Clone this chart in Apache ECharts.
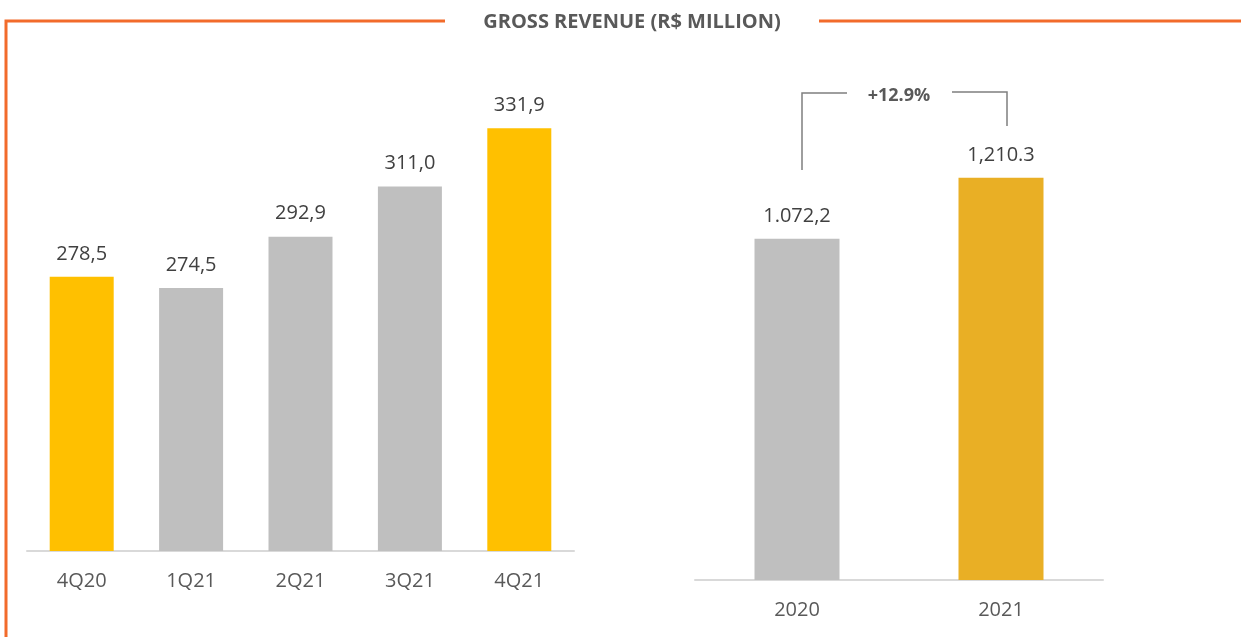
<!DOCTYPE html>
<html>
<head>
<meta charset="utf-8">
<script src="https://cdn.jsdelivr.net/npm/echarts@6/dist/echarts.min.js"></script>
<style>
  html, body { margin: 0; padding: 0; background: #fff; }
  #main { width: 1241px; height: 637px; }
</style>
</head>
<body>
<div id="main"></div>
<script>
  // quarterly gross revenue
  var quarters = ['4Q20', '1Q21', '2Q21', '3Q21', '4Q21']
  var quarterValues = [278.5, 274.5, 292.9, 311.0, 331.9]
  var quarterLabels = ['278,5', '274,5', '292,9', '311,0', '331,9']

  // yearly gross revenue
  var years = ['2020', '2021']
  var yearValues = [1072.2, 1210.3]
  var yearLabels = ['1.072,2', '1,210.3']
  var growthText = '+12.9%'

  var quarterColors = ['#FFC000', '#BFBFBF', '#BFBFBF', '#BFBFBF', '#FFC000']
  var yearColors = ['#BFBFBF', '#E9AF25']

  var font = '"Open Sans", "DejaVu Sans", sans-serif'
  var orange = '#F26B2B'
  var myChart = echarts.init(document.getElementById('main'))

  var option = {
    animation: false,
    textStyle: { fontFamily: font },
    grid: [
      { left: 27, width: 547, top: 50, bottom: 86 },
      { left: 695, width: 408, top: 94, bottom: 57 }
    ],
    xAxis: [{
      gridIndex: 0,
      type: 'category',
      data: quarters,
      axisLine: { lineStyle: { color: '#D9D9D9', width: 2 } },
      axisTick: { show: false },
      axisLabel: { color: '#595959', fontSize: 20, margin: 20, fontFamily: font }
    }, {
      gridIndex: 1,
      type: 'category',
      data: years,
      axisLine: { lineStyle: { color: '#D9D9D9', width: 2 } },
      axisTick: { show: false },
      axisLabel: { color: '#595959', fontSize: 20, margin: 20, fontFamily: font }
    }],
    yAxis: [{
      gridIndex: 0,
      type: 'value',
      min: 180,
      max: 360,
      show: false
    }, {
      gridIndex: 1,
      type: 'value',
      min: 300,
      max: 1400,
      show: false
    }],
    series: [{
      type: 'bar',
      xAxisIndex: 0,
      yAxisIndex: 0,
      barWidth: 64,
      data: quarterValues,
      itemStyle: {
        color: function (p) { return quarterColors[p.dataIndex] }
      },
      label: {
        show: true,
        position: 'top',
        distance: 13,
        fontSize: 20,
        color: '#404040',
        fontFamily: font,
        formatter: function (p) { return quarterLabels[p.dataIndex] }
      }
    }, {
      type: 'bar',
      xAxisIndex: 1,
      yAxisIndex: 1,
      barWidth: 85,
      data: yearValues,
      itemStyle: {
        color: function (p) { return yearColors[p.dataIndex] }
      },
      label: {
        show: true,
        position: 'top',
        distance: 13,
        fontSize: 20,
        color: '#404040',
        fontFamily: font,
        formatter: function (p) { return yearLabels[p.dataIndex] }
      }
    }],
    graphic: [
      // orange frame
      {
        type: 'polyline',
        shape: { points: [[445, 21], [6, 21], [6, 640]] },
        style: { stroke: orange, lineWidth: 3, fill: null }
      },
      {
        type: 'line',
        shape: { x1: 819, y1: 21, x2: 1245, y2: 21 },
        style: { stroke: orange, lineWidth: 3 }
      },
      {
        type: 'text',
        x: 632,
        y: 22,
        style: {
          text: 'GROSS REVENUE (R$ MILLION)',
          fontSize: 20,
          fontWeight: 'bold',
          fill: '#595959',
          fontFamily: font,
          align: 'center',
          verticalAlign: 'middle'
        }
      },
      // growth bracket
      {
        type: 'polyline',
        shape: { points: [[802, 170], [802, 93], [847, 93]] },
        style: { stroke: '#7F7F7F', lineWidth: 1.5, fill: null }
      },
      {
        type: 'polyline',
        shape: { points: [[952, 92], [1007, 92], [1007, 126]] },
        style: { stroke: '#7F7F7F', lineWidth: 1.5, fill: null }
      },
      {
        type: 'text',
        x: 899,
        y: 96,
        style: {
          text: growthText,
          fontSize: 18,
          fontWeight: 'bold',
          fill: '#595959',
          fontFamily: font,
          align: 'center',
          verticalAlign: 'middle'
        }
      }
    ]
  }

  myChart.setOption(option)
</script>
</body>
</html>
